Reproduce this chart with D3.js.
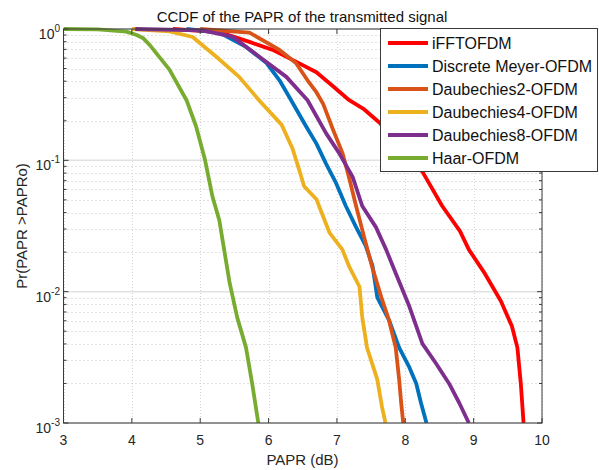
<!DOCTYPE html>
<html>
<head>
<meta charset="utf-8">
<script src="https://cdn.jsdelivr.net/npm/d3@7"></script>
<style>
  html, body { margin: 0; padding: 0; background: #fff; }
  svg { display: block; font-family: "Liberation Sans", Arial, sans-serif; }
</style>
</head>
<body>
<svg id="chart" width="599" height="470"></svg>
<script>
// CCDF curves: PAPR threshold (dB) and probability Pr(PAPR > PAPRo)
const seriesNames = ["iFFTOFDM", "Discrete Meyer-OFDM", "Daubechies2-OFDM",
                     "Daubechies4-OFDM", "Daubechies8-OFDM", "Haar-OFDM"];
const seriesColors = ["#ff0000", "#0072bd", "#d95319", "#edb120", "#7e2f8e", "#77ac30"];

const fftPapr  = [4.6, 5.28, 5.72, 6.06, 6.40, 6.70, 6.93, 7.18, 7.40, 7.62, 7.95, 8.25, 8.54, 8.80, 8.93, 9.15, 9.40, 9.56, 9.64, 9.69, 9.73];
const fftProb  = [1, 0.948, 0.798, 0.693, 0.564, 0.468, 0.371, 0.287, 0.244, 0.194, 0.125, 0.082, 0.0449, 0.0289, 0.0209, 0.0141, 0.00845, 0.00545, 0.00375, 0.002, 0.001];

const dmeyPapr = [4.8, 5.28, 5.67, 5.97, 6.16, 6.33, 6.55, 6.70, 6.84, 6.99, 7.13, 7.28, 7.42, 7.52, 7.59, 7.76, 7.91, 8.06, 8.16, 8.23, 8.31];
const dmeyProb = [1, 0.938, 0.73, 0.551, 0.407, 0.287, 0.181, 0.134, 0.0944, 0.0667, 0.0449, 0.031, 0.0224, 0.0158, 0.00906, 0.00611, 0.00375, 0.00265, 0.002, 0.00142, 0.001];

const db2Papr  = [5.0, 5.72, 6.16, 6.40, 6.57, 6.70, 6.80, 6.94, 7.08, 7.18, 7.28, 7.40, 7.52, 7.65, 7.76, 7.86, 7.91, 7.94, 7.97];
const db2Prob  = [1, 0.938, 0.693, 0.551, 0.407, 0.33, 0.268, 0.173, 0.114, 0.0731, 0.0449, 0.0258, 0.0151, 0.00906, 0.00611, 0.00375, 0.00215, 0.00142, 0.001];

const db4Papr  = [4.0, 4.55, 4.89, 5.24, 5.57, 5.86, 6.19, 6.35, 6.45, 6.52, 6.70, 6.89, 7.08, 7.18, 7.33, 7.37, 7.44, 7.59, 7.66, 7.71];
const db4Prob  = [1, 0.96, 0.869, 0.612, 0.432, 0.287, 0.187, 0.123, 0.0839, 0.0635, 0.0505, 0.0282, 0.0209, 0.0155, 0.0109, 0.0064, 0.00375, 0.00215, 0.00132, 0.001];

const db8Papr  = [4.05, 5.03, 5.47, 5.86, 6.26, 6.57, 6.84, 7.03, 7.23, 7.37, 7.57, 7.72, 7.86, 8.06, 8.25, 8.45, 8.64, 8.79, 8.93];
const db8Prob  = [1, 0.977, 0.875, 0.618, 0.432, 0.287, 0.161, 0.114, 0.0748, 0.0449, 0.031, 0.0209, 0.0138, 0.0077, 0.00402, 0.00284, 0.002, 0.00142, 0.001];

const haarPapr = [3.0, 3.5, 3.92, 4.07, 4.16, 4.26, 4.55, 4.80, 4.94, 5.07, 5.18, 5.28, 5.35, 5.43, 5.54, 5.67, 5.76, 5.85];
const haarProb = [1, 0.993, 0.955, 0.9, 0.855, 0.757, 0.49, 0.287, 0.181, 0.101, 0.0528, 0.0348, 0.0209, 0.0117, 0.0064, 0.00375, 0.002, 0.001];

const xTicks = [3, 4, 5, 6, 7, 8, 9, 10];
const yTickExponents = [0, -1, -2, -3];

const seriesPapr = [fftPapr, dmeyPapr, db2Papr, db4Papr, db8Papr, haarPapr];
const seriesProb = [fftProb, dmeyProb, db2Prob, db4Prob, db8Prob, haarProb];

const textColor = "#262626";
const svg = d3.select("#chart");
const plot = { left: 63.5, right: 542, top: 29, bottom: 423 };

const x = d3.scaleLinear().domain([3, 10]).range([plot.left, plot.right]);
const y = d3.scaleLog().domain([1e-3, 1]).range([plot.bottom, plot.top]);

// Minor decade positions 2..9 x 10^k
const minorVals = [];
for (let k = -3; k < 0; k++) for (let m = 2; m <= 9; m++) minorVals.push(m * Math.pow(10, k));

const grid = svg.append("g");
grid.selectAll("line.ymin").data(minorVals).enter().append("line")
  .attr("x1", plot.left).attr("x2", plot.right)
  .attr("y1", d => Math.round(y(d)) + 0.5).attr("y2", d => Math.round(y(d)) + 0.5)
  .attr("stroke", "#c4c4c4").attr("stroke-dasharray", "1,3").attr("stroke-width", 1);
grid.selectAll("line.ymaj").data(yTickExponents).enter().append("line")
  .attr("x1", plot.left).attr("x2", plot.right)
  .attr("y1", d => y(Math.pow(10, d))).attr("y2", d => y(Math.pow(10, d)))
  .attr("stroke", "#e2e2e2").attr("stroke-width", 1.5);
grid.selectAll("line.xmaj").data(xTicks).enter().append("line")
  .attr("x1", d => Math.round(x(d)) + 0.5).attr("x2", d => Math.round(x(d)) + 0.5)
  .attr("y1", plot.top).attr("y2", plot.bottom)
  .attr("stroke", "#d6d6d6").attr("stroke-dasharray", "1,2").attr("stroke-width", 1);

// Curves
svg.append("clipPath").attr("id", "clip").append("rect")
  .attr("x", plot.left).attr("y", plot.top - 2)
  .attr("width", plot.right - plot.left).attr("height", plot.bottom - plot.top + 2);

const line = d3.line().x(d => x(d[0])).y(d => y(d[1]));
const curves = svg.append("g").attr("clip-path", "url(#clip)");
seriesNames.forEach((name, i) => {
  const pts = seriesPapr[i].map((v, j) => [v, seriesProb[i][j]]);
  curves.append("path").datum(pts)
    .attr("d", line)
    .attr("fill", "none")
    .attr("stroke", seriesColors[i])
    .attr("stroke-width", 3.8)
    .attr("stroke-linejoin", "round");
});

// Axes box with inward ticks on all four sides
const axisColor = "#3a3a3a";
const ax = svg.append("g").attr("stroke", axisColor).attr("stroke-width", 1);
ax.append("rect").attr("x", plot.left).attr("y", plot.top)
  .attr("width", plot.right - plot.left).attr("height", plot.bottom - plot.top)
  .attr("fill", "none");
xTicks.forEach(t => {
  const px = x(t);
  ax.append("line").attr("x1", px).attr("x2", px).attr("y1", plot.bottom).attr("y2", plot.bottom - 5);
  ax.append("line").attr("x1", px).attr("x2", px).attr("y1", plot.top).attr("y2", plot.top + 5);
});
yTickExponents.forEach(e => {
  const py = y(Math.pow(10, e));
  ax.append("line").attr("x1", plot.left).attr("x2", plot.left + 5).attr("y1", py).attr("y2", py);
  ax.append("line").attr("x1", plot.right).attr("x2", plot.right - 5).attr("y1", py).attr("y2", py);
});
minorVals.forEach(v => {
  const py = y(v);
  ax.append("line").attr("x1", plot.left).attr("x2", plot.left + 3).attr("y1", py).attr("y2", py);
  ax.append("line").attr("x1", plot.right).attr("x2", plot.right - 3).attr("y1", py).attr("y2", py);
});

// Tick labels
svg.append("g").selectAll("text").data(xTicks).enter().append("text")
  .attr("x", d => x(d)).attr("y", plot.bottom + 22)
  .attr("text-anchor", "middle").attr("font-size", 14).attr("fill", textColor)
  .text(d => d);

const yl = svg.append("g").selectAll("text").data(yTickExponents).enter().append("text")
  .attr("x", 60).attr("y", d => y(Math.pow(10, d)) + 10)
  .attr("text-anchor", "end").attr("font-size", 14).attr("fill", textColor);
yl.append("tspan").text("10");
yl.append("tspan").attr("dy", -7).attr("font-size", 10).text(d => d === 0 ? "0" : "-" + Math.abs(d));

// Title and axis labels
svg.append("text").attr("x", 302).attr("y", 22).attr("text-anchor", "middle")
  .attr("font-size", 15).attr("fill", "#111").text("CCDF of the PAPR of the transmitted signal");
svg.append("text").attr("x", 302.5).attr("y", 465).attr("text-anchor", "middle")
  .attr("font-size", 15).attr("fill", textColor).text("PAPR (dB)");
svg.append("text").attr("transform", `translate(27, ${(plot.top + plot.bottom) / 2}) rotate(-90)`)
  .attr("text-anchor", "middle").attr("font-size", 15).attr("fill", textColor)
  .text("Pr(PAPR >PAPRo)");

// Legend
const legend = svg.append("g");
legend.append("rect").attr("x", 380.5).attr("y", 28.5).attr("width", 217).attr("height", 143)
  .attr("fill", "#fff").attr("stroke", "#3a3a3a").attr("stroke-width", 1);
seriesNames.forEach((name, i) => {
  const cy = 43 + i * 23;
  legend.append("line").attr("x1", 388).attr("x2", 428).attr("y1", cy).attr("y2", cy)
    .attr("stroke", seriesColors[i]).attr("stroke-width", 3.8);
  legend.append("text").attr("x", 432).attr("y", cy + 6)
    .attr("font-size", 16).attr("fill", "#111").text(name);
});
</script>
</body>
</html>
